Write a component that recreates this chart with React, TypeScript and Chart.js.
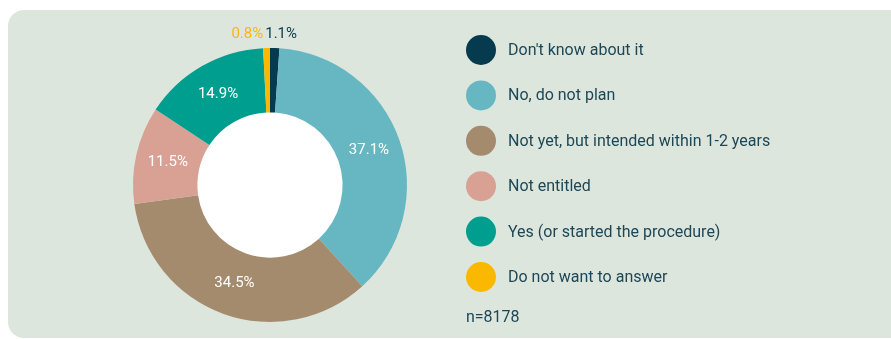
import React, { useEffect, useRef } from "react";
import { Chart, registerables } from "chart.js";

Chart.register(...registerables);

const categories = [
  "Don't know about it",
  "No, do not plan",
  "Not yet, but intended within 1-2 years",
  "Not entitled",
  "Yes (or started the procedure)",
  "Do not want to answer",
];
const values = [1.1, 37.1, 34.5, 11.5, 14.9, 0.8];
const colors = ["#063a4f", "#67b7c3", "#a58b6d", "#d8a194", "#009e8e", "#fbb800"];
const sampleNote = "n=8178";

const TEXT = "#1d4756";
const FONT = "Roboto, 'Noto Sans', sans-serif";

const holeFill = {
  id: "holeFill",
  beforeDatasetsDraw(chart: any) {
    const meta = chart.getDatasetMeta(0);
    const arc = meta.data[0];
    if (!arc) return;
    const p = arc.getProps(["x", "y", "innerRadius"], true);
    const ctx = chart.ctx;
    ctx.save();
    ctx.beginPath();
    ctx.arc(p.x, p.y, p.innerRadius + 0.5, 0, Math.PI * 2);
    ctx.fillStyle = "#ffffff";
    ctx.fill();
    ctx.restore();
  },
};

const sliceLabels = {
  id: "sliceLabels",
  afterDatasetsDraw(chart: any) {
    const ctx = chart.ctx;
    const meta = chart.getDatasetMeta(0);
    const data = chart.data.datasets[0].data as number[];
    const bg = chart.data.datasets[0].backgroundColor as string[];
    ctx.save();
    ctx.font = `15px ${FONT}`;
    ctx.textBaseline = "middle";
    meta.data.forEach((arc: any, i: number) => {
      const p = arc.getProps(["x", "y", "startAngle", "endAngle", "innerRadius", "outerRadius"], true);
      const mid = (p.startAngle + p.endAngle) / 2;
      const label = `${data[i].toFixed(1)}%`;
      if (data[i] >= 3) {
        const r = (p.innerRadius + p.outerRadius) / 2;
        ctx.fillStyle = "#ffffff";
        ctx.textAlign = "center";
        ctx.fillText(label, p.x + Math.cos(mid) * r, p.y + Math.sin(mid) * r);
      } else {
        const r = p.outerRadius + 14;
        const mx = p.x + Math.cos(mid) * r;
        const my = p.y + Math.sin(mid) * r;
        ctx.fillStyle = bg[i];
        const rightSide = Math.cos(mid) >= 0;
        ctx.textAlign = rightSide ? "left" : "right";
        ctx.fillText(label, rightSide ? mx - 10 : mx - 3, my);
      }
    });
    ctx.restore();
  },
};

const sideLegend = {
  id: "sideLegend",
  afterDraw(chart: any) {
    const ctx = chart.ctx;
    const labels = chart.data.labels as string[];
    const bg = chart.data.datasets[0].backgroundColor as string[];
    const x0 = 481;
    const y0 = 50;
    const step = 45.4;
    ctx.save();
    ctx.font = `16px ${FONT}`;
    ctx.textBaseline = "middle";
    ctx.textAlign = "left";
    labels.forEach((lab, i) => {
      const y = y0 + i * step;
      ctx.beginPath();
      ctx.arc(x0, y, 15, 0, Math.PI * 2);
      ctx.fillStyle = bg[i];
      ctx.fill();
      ctx.fillStyle = TEXT;
      ctx.fillText(lab, 508, y + 1);
    });
    ctx.fillStyle = TEXT;
    ctx.fillText(sampleNote, 466, 318);
    ctx.restore();
  },
};

export default function App() {
  const ref = useRef<HTMLCanvasElement | null>(null);
  useEffect(() => {
    if (!ref.current) return;
    const chart = new Chart(ref.current, {
      type: "doughnut",
      data: {
        labels: categories,
        datasets: [
          {
            data: values,
            backgroundColor: colors,
            borderWidth: 0,
          },
        ],
      },
      options: {
        responsive: false,
        animation: false,
        cutout: "53%",
        layout: { padding: { left: 133, right: 484, top: 48, bottom: 17 } },
        plugins: {
          legend: { display: false },
          tooltip: { enabled: false },
        },
      },
      plugins: [holeFill, sliceLabels, sideLegend],
    });
    return () => chart.destroy();
  }, []);

  return (
    <div
      style={{
        position: "fixed",
        left: 0,
        top: 0,
        width: 891,
        height: 339,
        overflow: "hidden",
        background: "#ffffff",
      }}
    >
      <div
        style={{
          position: "absolute",
          left: 8,
          top: 10,
          width: 910,
          height: 328,
          borderRadius: 16,
          background: "#dde6dc",
        }}
      />
      <canvas
        ref={ref}
        width={891}
        height={339}
        style={{ position: "absolute", left: 0, top: 0, width: 891, height: 339 }}
      />
    </div>
  );
}
